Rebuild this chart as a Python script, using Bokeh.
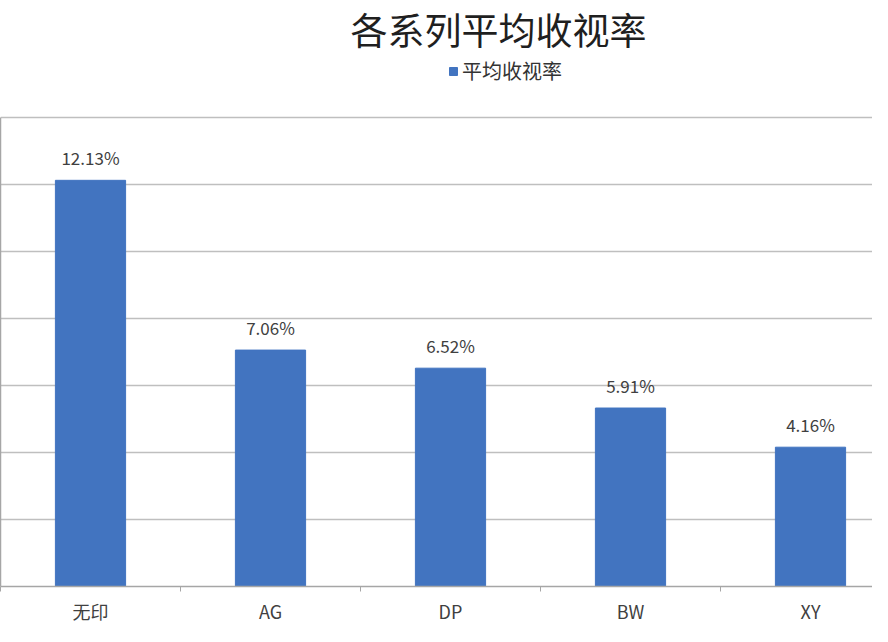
import numpy as np
from bokeh.plotting import figure
from bokeh.models import (Range1d, FixedTicker, ColumnDataSource,
                          LabelSet, Label, Legend, LegendItem)
from bokeh.core.properties import value
from bokeh.embed import file_html
from bokeh.resources import INLINE

categories = ["无印", "AG", "DP", "BW", "XY"]
values = [12.13, 7.06, 6.52, 5.33, 4.16]
value_labels = ["12.13%", "7.06%", "6.52%", "5.91%", "4.16%"]
grid_ticks = [0, 2, 4, 6, 8, 10, 12, 14]
series_name = "平均收视率"
title_text = "各系列平均收视率"

FONT = "Noto Sans CJK SC"
BAR = "#4274C0"
GRID = "#BFBFBF"
AXIS = "#A6A6A6"

x = np.arange(len(categories)) + 0.5
src = ColumnDataSource(dict(x=x, top=values, lab=value_labels))

p = figure(width=872, height=626, output_backend="svg", toolbar_location=None,
           x_range=Range1d(0, 872 / 180), y_range=Range1d(0, 17.5),
           min_border_left=0, min_border_right=0, min_border_bottom=0, min_border_top=0)

r = p.vbar(x="x", top="top", width=0.39, source=src, fill_color=BAR, line_color=BAR)

labels = LabelSet(x="x", y="top", text="lab", source=src, text_align="center",
                  text_baseline="bottom", y_offset=10, text_font=value(FONT),
                  text_font_size="17px", text_color="#404040")
p.add_layout(labels)

title = Label(x=350 / 180, y=16.66, text=title_text,
              text_font=FONT, text_font_size="37px", text_color="#1f1f1f",
              text_align="left", text_baseline="middle")
p.add_layout(title)

legend = Legend(items=[LegendItem(label=series_name, renderers=[r])],
                orientation="horizontal", location=(448, 501),
                label_text_font=FONT, label_text_font_size="20px", label_text_color="#333333",
                label_height=20, glyph_width=10, glyph_height=10, label_standoff=4,
                padding=0, margin=0, border_line_color=None, background_fill_alpha=0)
p.add_layout(legend)

# y axis: only its line, bounded to the gridded part; the grid keeps its own ticks
p.yaxis.ticker = FixedTicker(ticks=[])
p.yaxis.bounds = (grid_ticks[0], grid_ticks[-1])
p.yaxis.major_label_standoff = 0
p.yaxis.major_tick_out = 0
p.yaxis.major_tick_in = 0
p.yaxis.minor_tick_out = 0
p.yaxis.minor_tick_in = 0
p.yaxis.axis_line_color = AXIS
p.yaxis.axis_line_width = 1.5

p.ygrid.ticker = FixedTicker(ticks=grid_ticks)
p.ygrid.grid_line_color = GRID
p.ygrid.grid_line_width = 1.5
p.xgrid.grid_line_color = None
p.outline_line_color = None

p.xaxis.ticker = FixedTicker(ticks=list(x), minor_ticks=list(np.arange(len(categories) + 1)))
p.xaxis.major_label_overrides = {float(xi): c for xi, c in zip(x, categories)}
p.xaxis.major_tick_line_color = None
p.xaxis.major_tick_out = 0
p.xaxis.major_tick_in = 0
p.xaxis.minor_tick_out = 5
p.xaxis.minor_tick_in = 0
p.xaxis.minor_tick_line_color = AXIS
p.xaxis.axis_line_color = AXIS
p.xaxis.axis_line_width = 1.5
p.xaxis.major_label_text_font = FONT
p.xaxis.major_label_text_font_size = "18px"
p.xaxis.major_label_text_color = "#404040"
p.xaxis.major_label_standoff = 6

open("out.html", "w").write(file_html(p, INLINE))
